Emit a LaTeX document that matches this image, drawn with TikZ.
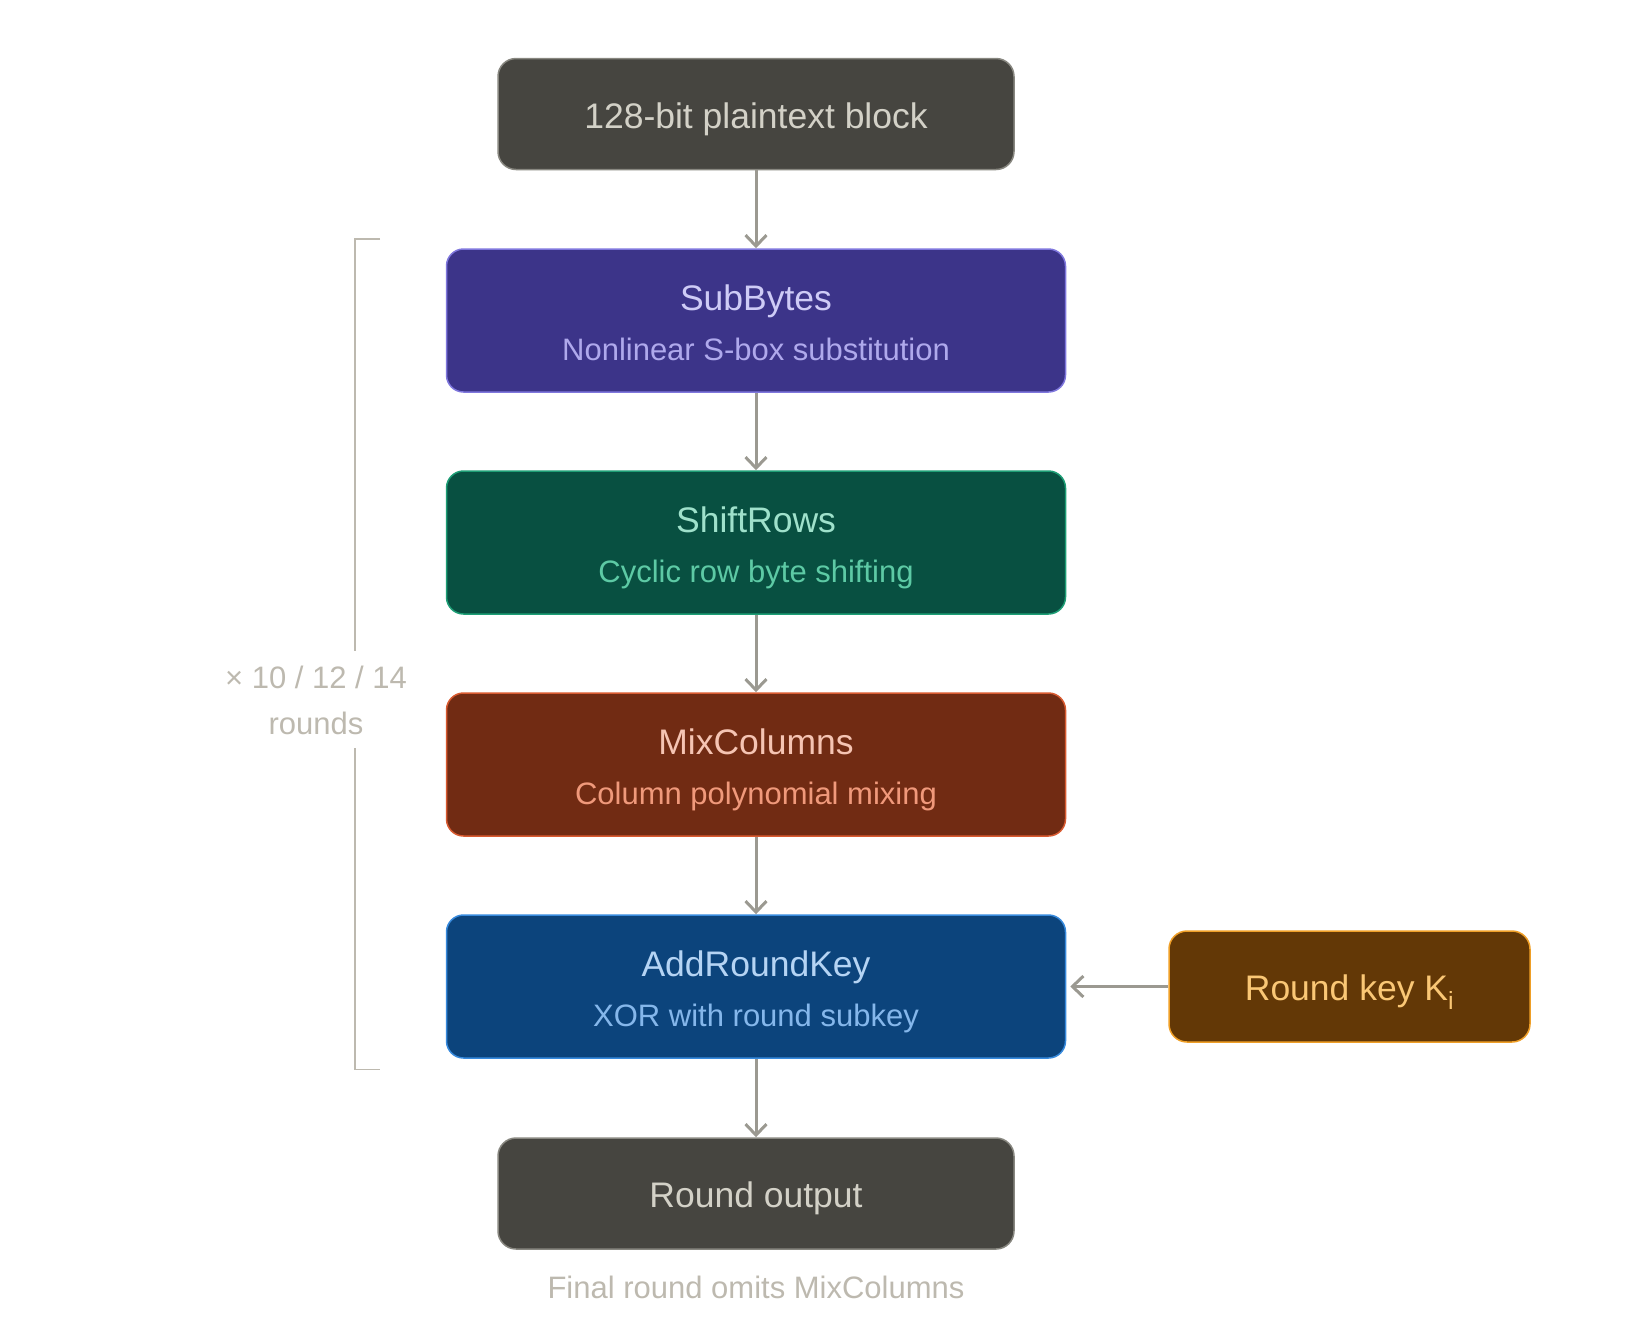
\documentclass[tikz,border=0pt]{standalone}
\usepackage{fontspec}
\setmainfont{Liberation Sans}
\usetikzlibrary{arrows.meta}
\definecolor{grayfill}{HTML}{464540}
\definecolor{grayline}{HTML}{888780}
\definecolor{graytext}{HTML}{D3D1C7}
\definecolor{arrowgray}{HTML}{9B9991}
\definecolor{notegray}{HTML}{BDB9AF}
\definecolor{subfill}{HTML}{3C3489}
\definecolor{subline}{HTML}{7F77DD}
\definecolor{subname}{HTML}{CECBF6}
\definecolor{subinfo}{HTML}{AFA9EC}
\definecolor{shiftfill}{HTML}{085041}
\definecolor{shiftline}{HTML}{1D9E75}
\definecolor{shiftname}{HTML}{9FE1CB}
\definecolor{shiftinfo}{HTML}{5DCAA5}
\definecolor{mixfill}{HTML}{712B13}
\definecolor{mixline}{HTML}{D85A30}
\definecolor{mixname}{HTML}{F5C4B3}
\definecolor{mixinfo}{HTML}{F0997B}
\definecolor{addfill}{HTML}{0C447C}
\definecolor{addline}{HTML}{378ADD}
\definecolor{addname}{HTML}{B5D4F4}
\definecolor{addinfo}{HTML}{85B7EB}
\definecolor{keyfill}{HTML}{633806}
\definecolor{keyline}{HTML}{EF9F27}
\definecolor{keytext}{HTML}{FAC775}
\begin{document}
\begin{tikzpicture}[x=1pt,y=-1pt,
  stage/.style={rounded corners=17pt, line width=1.5pt, minimum width=619pt, minimum height=143pt, inner sep=0pt},
  endbox/.style={rounded corners=18pt, line width=1.5pt, fill=grayfill, draw=grayline, text=graytext, minimum width=516pt, minimum height=111pt, inner sep=0pt, font=\fontsize{35.5}{40}\selectfont, text height=28pt, text depth=0pt},
  stagename/.style={anchor=base, font=\fontsize{35.5}{40}\selectfont},
  stageinfo/.style={anchor=base, font=\fontsize{31}{36}\selectfont},
  note/.style={text=notegray, align=center, font=\fontsize{31}{46}\selectfont},
  flow/.style={draw=arrowgray, line width=3pt, -{Straight Barb[length=11pt,width=21pt]}}]
\useasboundingbox (0,0) rectangle (1646,1334);
\node[endbox] (plain) at (756,114) {128-bit plaintext block};
% the four round stages
\node[stage, fill=subfill, draw=subline] (sub) at (756,320.5) {};
\node[stagename, text=subname] (subT) at (756,310.5) {SubBytes};
\node[stageinfo, text=subinfo] (subD) at (756,360) {Nonlinear S-box substitution};
\node[stage, fill=shiftfill, draw=shiftline] (shift) at (756,542.5) {};
\node[stagename, text=shiftname] (shiftT) at (756,532.5) {ShiftRows};
\node[stageinfo, text=shiftinfo] (shiftD) at (756,582) {Cyclic row byte shifting};
\node[stage, fill=mixfill, draw=mixline] (mix) at (756,764.5) {};
\node[stagename, text=mixname] (mixT) at (756,754.5) {MixColumns};
\node[stageinfo, text=mixinfo] (mixD) at (756,804) {Column polynomial mixing};
\node[stage, fill=addfill, draw=addline] (add) at (756,986.5) {};
\node[stagename, text=addname] (addT) at (756,976.5) {AddRoundKey};
\node[stageinfo, text=addinfo] (addD) at (756,1026) {XOR with round subkey};
\node[endbox] (out) at (756,1193.5) {Round output};
\node[endbox, minimum width=361pt, fill=keyfill, draw=keyline, text=keytext] (key) at (1349.5,986.5) {Round key K\textsubscript{i}};
\node[note, font=\fontsize{31}{36}\selectfont] (omit) at (756,1287) {Final round omits MixColumns};
\node[note] (reps) at (316,700) {× 10 / 12 / 14\\rounds};
% bracket
\draw[notegray, line width=1.5pt] (380,239) -- (355,239) -- (355,651);
\draw[notegray, line width=1.5pt] (355,748) -- (355,1069.5) -- (380,1069.5);
\draw[flow] (plain) -- (sub);
\draw[flow] (sub) -- (shift);
\draw[flow] (shift) -- (mix);
\draw[flow] (mix) -- (add);
\draw[flow] (add) -- (out);
\draw[flow, shorten >=4pt] (key) -- (add);
\end{tikzpicture}
\end{document}
